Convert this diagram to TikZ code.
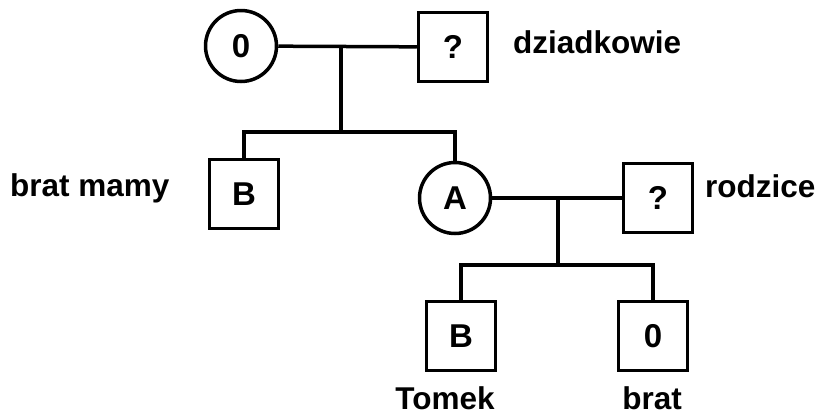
\documentclass[tikz,border=0pt]{standalone}
\usepackage{fontspec}
\setmainfont{Liberation Sans}
\begin{document}
\begin{tikzpicture}[x=1pt,y=-1pt,
  person/.style={draw=black,line width=3.5pt,inner sep=0pt,font=\fontsize{33}{38}\selectfont\bfseries},
  male/.style={person,rectangle,minimum size=69pt},
  female/.style={person,circle,minimum size=71pt},
  lbl/.style={font=\fontsize{31.5}{37}\selectfont\bfseries,inner sep=0pt},
  link/.style={line width=3.5pt,line cap=rect}]
\useasboundingbox (0,0) rectangle (821,416);
% nodes
\node[female] (g0) at (241,46) {0};
\node[male] (gq) at (453,47) {?};
\node[male] (b1) at (244,194) {B};
\node[female] (a) at (455,198) {A};
\node[male] (fq) at (658,198) {?};
\node[male] (t) at (461,336) {B};
\node[male] (br) at (653,336) {0};
% labels
\node[lbl,anchor=base west] (l1) at (513,53) {dziadkowie};
\node[lbl,anchor=base west] (l2) at (10,196) {brat mamy};
\node[lbl,anchor=base west] (l3) at (705,197) {rodzice};
\node[lbl,anchor=base] (l4) at (445,409) {Tomek};
\node[lbl,anchor=base] (l5) at (652,409) {brat};
% couple 1
\coordinate (m1) at (341,47);
\coordinate (s1) at (341,132);
\draw[line width=3.5pt] (g0) -- (gq);
\draw[link] (m1) -- (s1);
\draw[line width=3.5pt] (b1.north) |- (s1) -| (a.north);
% couple 2
\coordinate (m2) at (558,198);
\coordinate (s2) at (558,265);
\draw[line width=3.5pt] (a) -- (fq);
\draw[link] (m2) -- (s2);
\draw[line width=3.5pt] (t.north) |- (s2) -| (br.north);
\end{tikzpicture}
\end{document}
